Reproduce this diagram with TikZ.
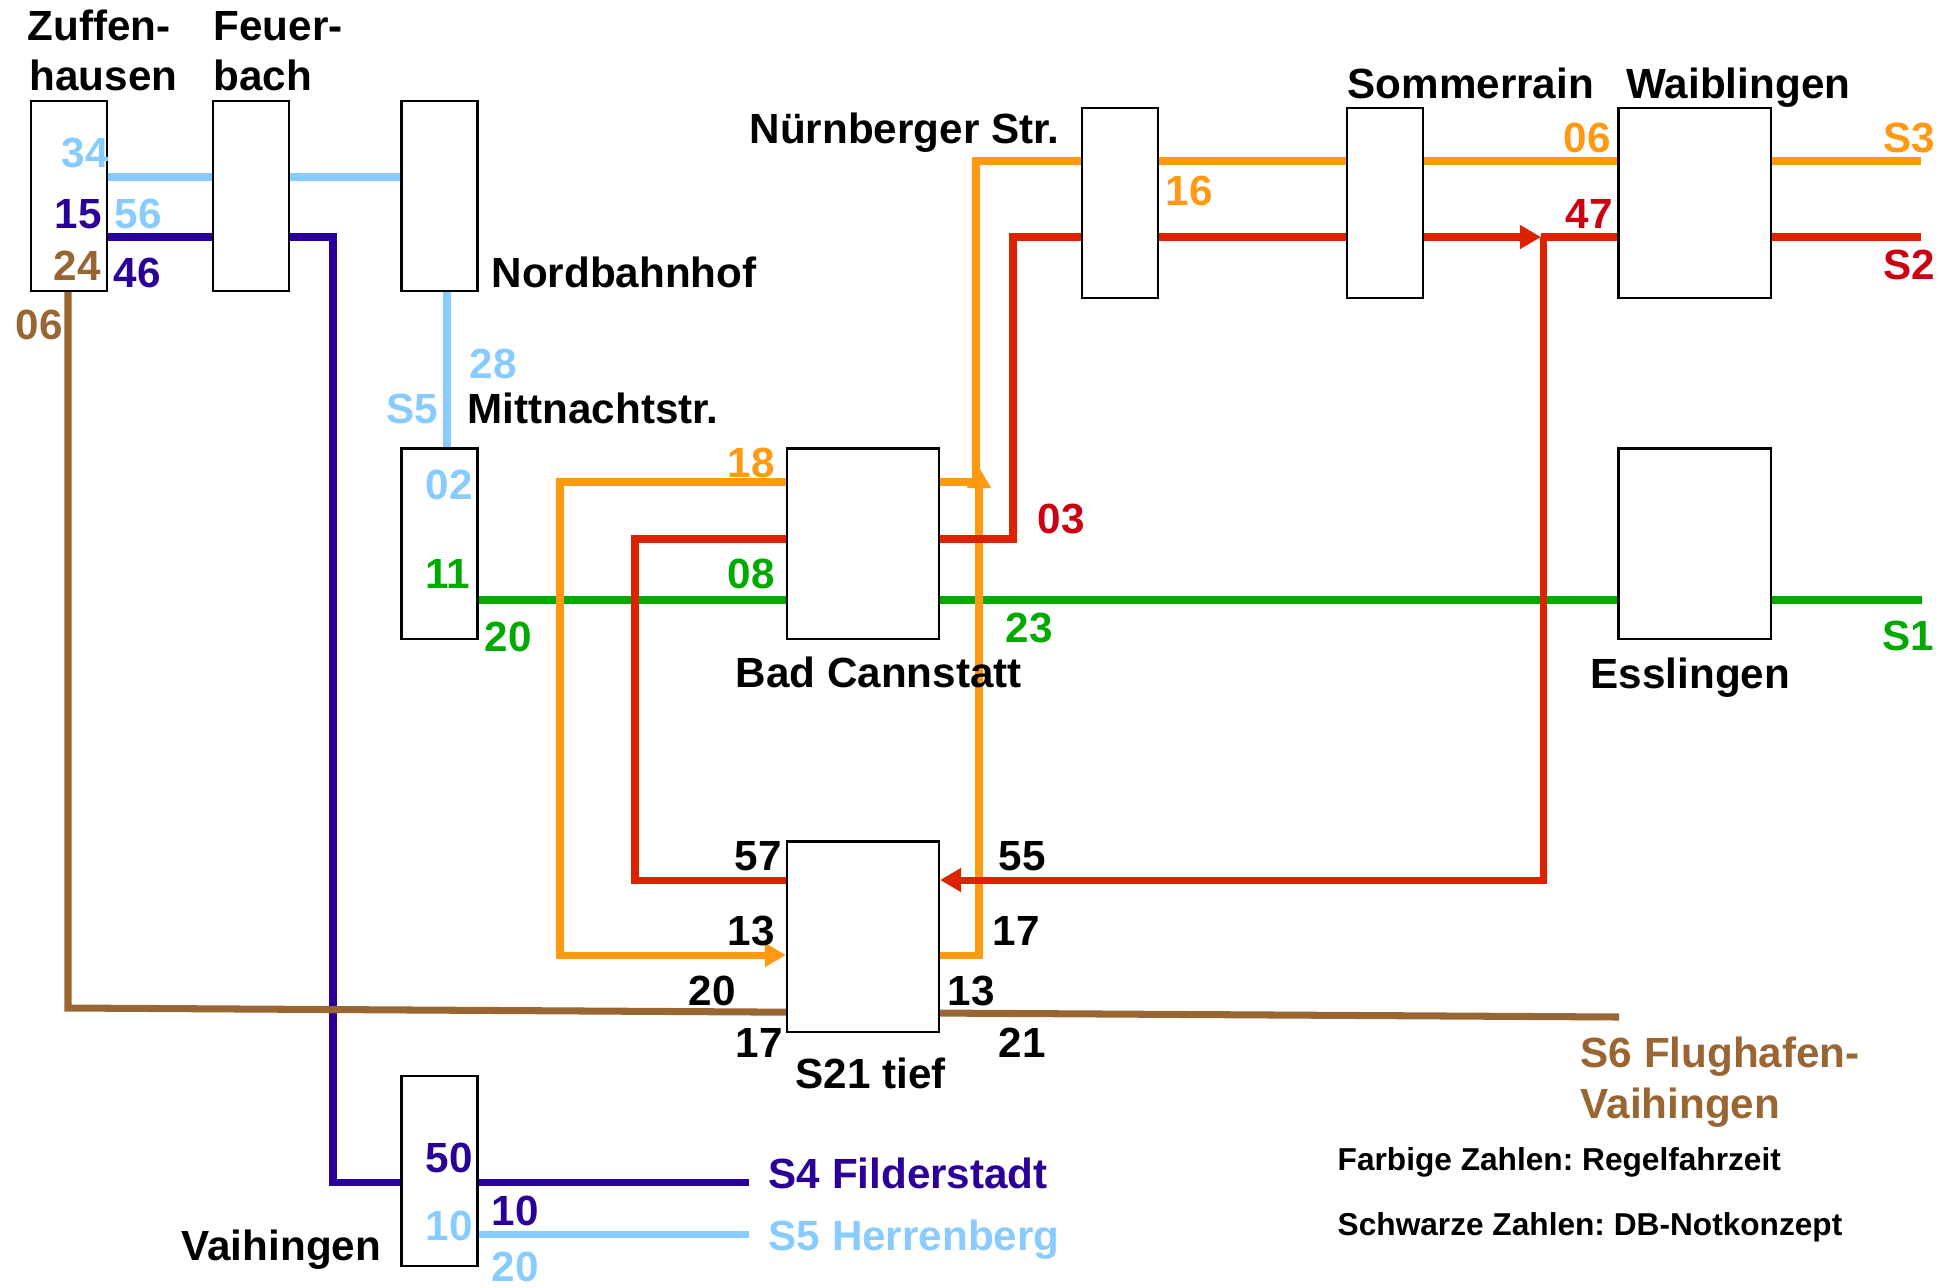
\documentclass[tikz,border=0pt]{standalone}
\usepackage{fontspec}
\setmainfont{Liberation Sans}
\usepackage{xcolor}
\usetikzlibrary{arrows.meta, backgrounds}
\frenchspacing

\definecolor{sonecol}{HTML}{00AA00}
\definecolor{stwocol}{HTML}{DD2200}
\definecolor{stwotext}{HTML}{CC0011}
\definecolor{sthreecol}{HTML}{FF9911}
\definecolor{sfourcol}{HTML}{2B0099}
\definecolor{sfivecol}{HTML}{88CCFF}
\definecolor{ssixcol}{HTML}{996633}

\begin{document}
\begin{tikzpicture}[x=0.01cm, y=-0.01cm,
    station/.style={rectangle, draw, fill=white, line width=0.6pt, inner sep=0pt, minimum width=0.76cm, minimum height=1.9cm},
    wide/.style={minimum width=1.52cm},
    lbl/.style={inner sep=0pt, anchor=base west, font=\bfseries\fontsize{12}{14}\selectfont},
    legend/.style={inner sep=0pt, anchor=base west, font=\bfseries\fontsize{9}{11}\selectfont},
    route/.style={line width=2pt},
    tip/.style={-{Triangle[length=6pt, width=6.5pt]}}]

    \useasboundingbox (0,0) rectangle (1939,1287);

    % Stations
    \node [station] (zuf) at (69,196) {};
    \node [station] (feu) at (251,196) {};
    \node [station] (nord) at (439.5,196) {};
    \node [station] (mitt) at (439.5,543.5) {};
    \node [station] (vai) at (439.5,1171) {};
    \node [station] (nbg) at (1120,203) {};
    \node [station] (som) at (1385,203) {};
    \node [station, wide] (wai) at (1694.5,203) {};
    \node [station, wide] (ess) at (1694.5,543.5) {};
    \node [station, wide] (bc) at (863,543.5) {};
    \node [station, wide] (stief) at (863,936.5) {};

    % Line ends
    \coordinate (sfiveend) at (749,1234);
    \coordinate (sfourend) at (749,1182);
    \coordinate (ssixend) at (1619,1017);
    \coordinate (soneend) at (1922,600);
    \coordinate (sthreeend) at (1921,161);
    \coordinate (stwoend) at (1921,237);

    % Routes
    \begin{pgfonlayer}{background}
    \draw [route, sfivecol] (zuf.east |- 0,177) -- (nord.west |- 0,177);
    \draw [route, sfivecol] (nord.south -| 447,0) -- (mitt.north -| 447,0);
    \draw [route, sfivecol] (vai.east |- sfiveend) -- (sfiveend);
    \draw [route, sfourcol] (zuf.east |- 0,237) -- (333,237) -- (333,1182) -- (sfourend);
    \draw [route, ssixcol] (zuf.south -| 68,0) -- (68,1008) -- (ssixend);
    \draw [route, sonecol] (mitt.east |- soneend) -- (soneend);
    \draw [route, sthreecol] (bc.east |- 0,482) -- (976,482) -- (976,161) -- (sthreeend);
    \draw [route, sthreecol, tip] (bc.west |- 0,482) -- (560,482) -- (560,955) -- (stief.west |- 0,955);
    \draw [route, sthreecol, tip] (stief.east |- 0,955) -- (979,955) -- (979,467);
    \draw [route, stwocol] (bc.east |- 0,539) -- (1013,539) -- (1013,237) -- (som.east |- 0,237);
    \draw [route, stwocol, tip] (som.east |- 0,237) -- (1541,237);
    \draw [route, stwocol] (1541,237) -- (stwoend);
    \draw [route, stwocol] (bc.west |- 0,539) -- (635,539) -- (635,880) -- (stief.west |- 0,880);
    \draw [route, stwocol, tip] (1543,237) -- (1543,880) -- (stief.east |- 0,880);
    \end{pgfonlayer}

    % Station names
    \node [lbl] (zufa) at (27,40) {Zuffen-};
    \node [lbl] (zufb) at (29,90) {hausen};
    \node [lbl] (feua) at (213,40) {Feuer-};
    \node [lbl] (feub) at (213,90) {bach};
    \node [lbl] (nordl) at (491,287) {Nordbahnhof};
    \node [lbl] (mittl) at (467,423) {Mittnachtstr.};
    \node [lbl] (nbgl) at (749,143) {Nürnberger Str.};
    \node [lbl] (soml) at (1347,98) {Sommerrain};
    \node [lbl] (wail) at (1626,98) {Waiblingen};
    \node [lbl] (bcl) at (735,687) {Bad Cannstatt};
    \node [lbl] (essl) at (1590,688) {Esslingen};
    \node [lbl] (stiefl) at (795,1088) {S21 tief};
    \node [lbl] (vail) at (181,1260) {Vaihingen};

    % Regelfahrzeit
    \node [lbl, sfivecol] (t34) at (61,167) {34};
    \node [lbl, sfivecol] (t56) at (114,228) {56};
    \node [lbl, sfivecol] (t28) at (469,378) {28};
    \node [lbl, sfivecol] (sfivel) at (386,423) {S5};
    \node [lbl, sfivecol] (t02) at (425,499) {02};
    \node [lbl, sfivecol] (t10b) at (425,1240) {10};
    \node [lbl, sfivecol] (t20b) at (491,1281) {20};
    \node [lbl, sfivecol] (sfivedest) at (768,1250) {S5 Herrenberg};
    \node [lbl, sfourcol] (t15) at (54,228) {15};
    \node [lbl, sfourcol] (t46) at (113,287) {46};
    \node [lbl, sfourcol] (t50) at (425,1172) {50};
    \node [lbl, sfourcol] (t10a) at (491,1225) {10};
    \node [lbl, sfourcol] (sfourdest) at (768,1188) {S4 Filderstadt};
    \node [lbl, ssixcol] (t24) at (53,280) {24};
    \node [lbl, ssixcol] (t06a) at (15,339) {06};
    \node [lbl, ssixcol] (ssixa) at (1580,1067) {S6 Flughafen-};
    \node [lbl, ssixcol] (ssixb) at (1580,1118) {Vaihingen};
    \node [lbl, sonecol] (t11) at (425,588) {11};
    \node [lbl, sonecol] (t20a) at (484,651) {20};
    \node [lbl, sonecol] (t08) at (727,588) {08};
    \node [lbl, sonecol] (t23) at (1005,642) {23};
    \node [lbl, sonecol] (sonel) at (1882,650) {S1};
    \node [lbl, sthreecol] (t18) at (727,477) {18};
    \node [lbl, sthreecol] (t16) at (1165,205) {16};
    \node [lbl, sthreecol] (t06b) at (1563,152) {06};
    \node [lbl, sthreecol] (sthreel) at (1883,152) {S3};
    \node [lbl, stwotext] (t03) at (1037,533) {03};
    \node [lbl, stwotext] (t47) at (1565,228) {47};
    \node [lbl, stwotext] (stwol) at (1883,279) {S2};

    % DB-Notkonzept
    \node [lbl] (n57) at (734,870) {57};
    \node [lbl] (n55) at (998,870) {55};
    \node [lbl] (n13a) at (727,945) {13};
    \node [lbl] (n17a) at (992,945) {17};
    \node [lbl] (n20) at (688,1005) {20};
    \node [lbl] (n13b) at (947,1005) {13};
    \node [lbl] (n17b) at (735,1057) {17};
    \node [lbl] (n21) at (998,1057) {21};

    % Legend
    \node [legend] (lega) at (1337,1170) {Farbige Zahlen: Regelfahrzeit};
    \node [legend] (legb) at (1337,1235) {Schwarze Zahlen: DB-Notkonzept};
\end{tikzpicture}
\end{document}
